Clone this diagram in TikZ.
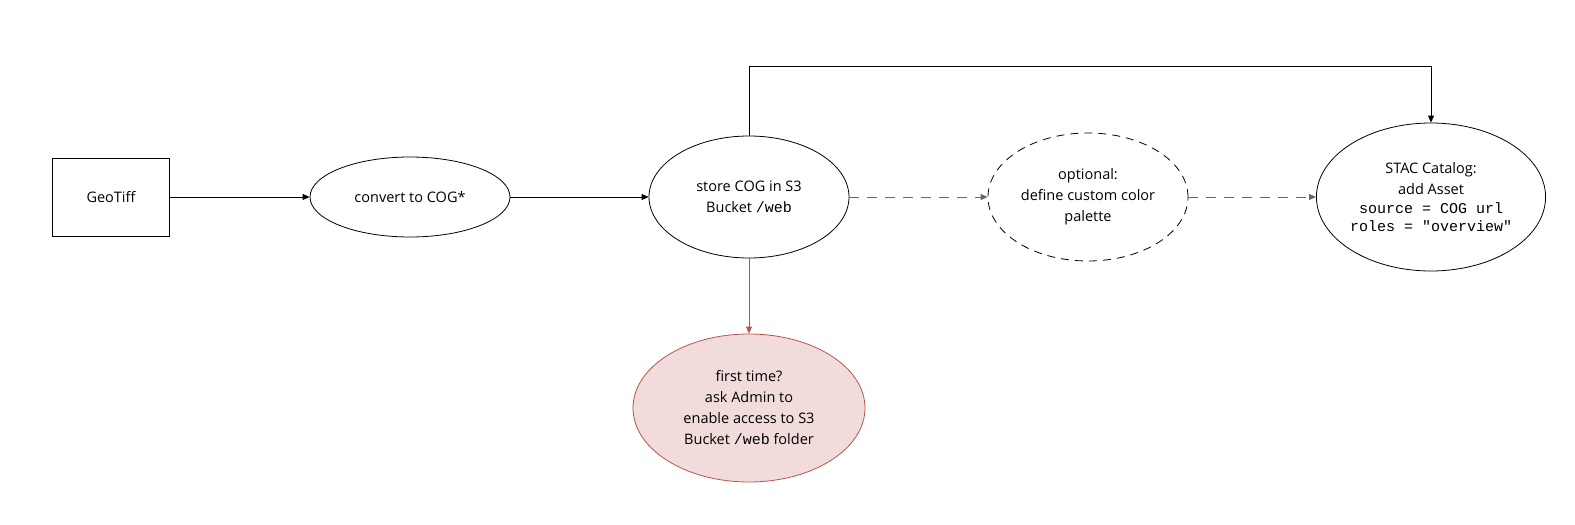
\documentclass[tikz,border=0pt]{standalone}
\usepackage{fontspec}
\setmainfont{Open Sans}
\setmonofont{Liberation Mono}
\usetikzlibrary{shapes.geometric,arrows.meta}
\definecolor{redfill}{HTML}{F2DCDB}
\definecolor{redline}{HTML}{B85450}
\definecolor{dashgray}{HTML}{666666}
\tikzset{
  x=1pt,y=-1pt,
  every node/.style={font=\fontsize{14.5}{21}\selectfont, align=center, inner sep=0pt},
  boxnode/.style={draw, line width=0.8pt, minimum width=117pt, minimum height=78pt},
  ell/.style={draw, ellipse, line width=0.8pt, inner sep=0pt},
  conn/.style={line width=0.8pt, -{Triangle[length=7pt,width=6pt]}},
  dconn/.style={conn, dashgray, dash pattern=on 10pt off 8pt},
  monotext/.style={}
}
\newcommand{\mytt}[1]{{\fontsize{15}{21}\selectfont\texttt{#1}}}
\begin{document}
\begin{tikzpicture}
\useasboundingbox (0,0) rectangle (1575,525);
\node[boxnode] (geo) at (111,197) {GeoTiff};
\node[ell, minimum width=200pt, minimum height=80pt] (cog) at (410,197) {convert to COG*};
\node[ell, minimum width=200pt, minimum height=122pt] (store) at (749,197) {store COG in S3\\Bucket \mytt{/web}};
\node[ell, dash pattern=on 8pt off 6pt, minimum width=200pt, minimum height=128pt] (opt) at (1088,197) {optional:\\define custom color\\palette};
\node[ell, minimum width=210pt, minimum height=148pt] (stac) at (1431,197) {STAC Catalog:\\add Asset\\[-2pt]\mytt{source = COG url}\\[-3pt]\mytt{roles = "overview"}};
\node[ell, draw=redline, fill=redfill, minimum width=232pt, minimum height=148pt] (first) at (749,408) {first time?\\ask Admin to\\enable access to S3\\Bucket \mytt{/web} folder};
\draw[conn] (geo) -- (cog);
\draw[conn] (cog) -- (store);
\draw[dconn] (store) -- (opt);
\draw[dconn] (opt) -- (stac);
\draw[conn, redline] (store) -- (first);
\coordinate (t1) at (749,66);
\coordinate (t2) at (1431,66);
\draw[conn] (store.north) -- (t1) -- (t2) -- (stac.north);
\end{tikzpicture}
\end{document}
